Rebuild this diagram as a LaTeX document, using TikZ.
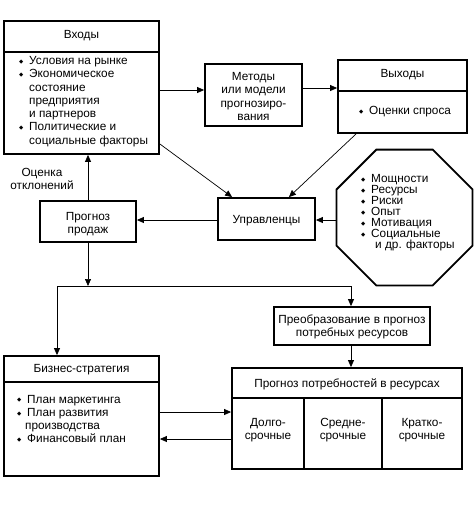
\documentclass[tikz,border=0pt]{standalone}
\usepackage{fontspec}
\setmainfont{Liberation Sans}
\newfontfamily\symfont{DejaVu Sans}
\usetikzlibrary{arrows.meta,shapes.geometric,calc}
\newcommand\bl{\makebox[10pt][l]{\raisebox{1.3pt}{\symfont\fontsize{5.5}{5.5}\selectfont ◆}}}
\newcommand\ind{\hspace*{10pt}}
\begin{document}
\begin{tikzpicture}[x=1pt,y=-1pt,
  box/.style={draw, line width=1.8pt, inner sep=0pt},
  txt/.style={font=\fontsize{11.8}{13.3}\selectfont, inner sep=0pt, align=center},
  lst/.style={txt, align=left, anchor=west},
  conn/.style={line width=0.7pt, -{Triangle[length=7pt,width=6pt]}},
  plain/.style={line width=0.7pt},
  sep/.style={line width=1.3pt}]
\useasboundingbox (0,0) rectangle (476,507);

% Inputs
\node[box, minimum width=155, minimum height=133] (in) at (81.5,87.5) {};
\draw[sep] (in.west |- 0,52) -- (in.east |- 0,52);
\node[txt] (inhead) at (81.5,36) {Входы};
\node[lst] (inlist) at (19,101.5) {\bl Условия на рынке\\
\bl Экономическое\\
\ind состояние\\
\ind предприятия\\
\ind и партнеров\\
\bl Политические и\\
\ind социальные факторы};

% Methods
\node[box, minimum width=97, minimum height=62] (meth) at (253.5,95) {};
\node[txt] (methtext) at (253.5,96.5) {Методы\\или модели\\прогнозиро-\\вания};

% Outputs
\node[box, minimum width=129, minimum height=73] (out) at (402.5,96.5) {};
\draw[sep] (out.west |- 0,91) -- (out.east |- 0,91);
\node[txt] (outhead) at (402.5,74.5) {Выходы};
\node[lst] (outlist) at (359,111.5) {\bl Оценки спроса};

% Managers
\node[box, minimum width=97, minimum height=42] (upr) at (266.5,219) {};
\node[txt] (uprtext) at (266.5,220.5) {Управленцы};

% Sales forecast
\node[box, minimum width=96, minimum height=41] (prog) at (88,221.5) {};
\node[txt] (progtext) at (88,224) {Прогноз\\продаж};

\node[txt] (dev) at (42,179) {Оценка\\отклонений};

% Octagon
\node[box, regular polygon, regular polygon sides=8, minimum size=147] (oct) at (404.5,217.5) {};
\node[lst, font=\fontsize{11.8}{11}\selectfont] (octlist) at (361,213) {\bl Мощности\\
\bl Ресурсы\\
\bl Риски\\
\bl Опыт\\
\bl Мотивация\\
\bl Социальные\\
\hspace*{14pt}и др. факторы};

% Conversion
\node[box, minimum width=156, minimum height=38] (pre) at (352,326) {};
\node[txt] (pretext) at (352,327) {Преобразование в прогноз\\потребных ресурсов};

% Resource needs
\node[box, minimum width=230, minimum height=101] (need) at (347,418.5) {};
\draw[sep] (need.west |- 0,398) -- (need.east |- 0,398);
\draw[sep] (need.south -| 304,0) -- (304,398);
\draw[sep] (need.south -| 382,0) -- (382,398);
\node[txt] (needhead) at (347,384) {Прогноз потребностей в ресурсах};
\node[txt] (c1) at (268,430) {Долго-\\срочные};
\node[txt] (c2) at (343,430) {Средне-\\срочные};
\node[txt] (c3) at (422,430) {Кратко-\\срочные};

% Business strategy
\node[box, minimum width=155, minimum height=120] (biz) at (81.5,416) {};
\draw[sep] (biz.west |- 0,382) -- (biz.east |- 0,382);
\node[txt] (bizhead) at (81.5,369.5) {Бизнес-стратегия};
\node[lst] (bizlist) at (17,419) {\bl План маркетинга\\
\bl План развития\\
\hspace*{8pt}производства\\
\bl Финансовый план};

% Connectors
\coordinate (jm) at (88,286);
\coordinate (jl) at (57,286);
\coordinate (jr) at (351,286);
\draw[conn] (in.east |- 0,90) -- (meth.west |- 0,90);
\draw[conn] (meth.east |- 0,88) -- (out.west |- 0,88);
\draw[conn] (in.east |- 0,144) -- ($(upr.north west)+(15,0)$);
\draw[conn] ($(out.south west)+(19,0)$) -- ($(upr.north east)+(-27,0)$);
\draw[conn] (upr.west |- 0,220) -- (prog.east |- 0,220);
\draw[conn] (oct.west |- 0,220) -- (upr.east |- 0,220);
\draw[conn] (prog.north) -- (in.south -| prog.north);
\draw[conn] (prog.south) -- (jm);
\draw[plain] (jl) -- (jr);
\draw[conn] (jl) -- (biz.north -| jl);
\draw[conn] (jr) -- (pre.north -| jr);
\draw[conn] (pre.south -| jr) -- (need.north -| jr);
\draw[conn] (biz.east |- 0,412) -- (need.west |- 0,412);
\draw[conn] (need.west |- 0,439) -- (biz.east |- 0,439);
\end{tikzpicture}
\end{document}
